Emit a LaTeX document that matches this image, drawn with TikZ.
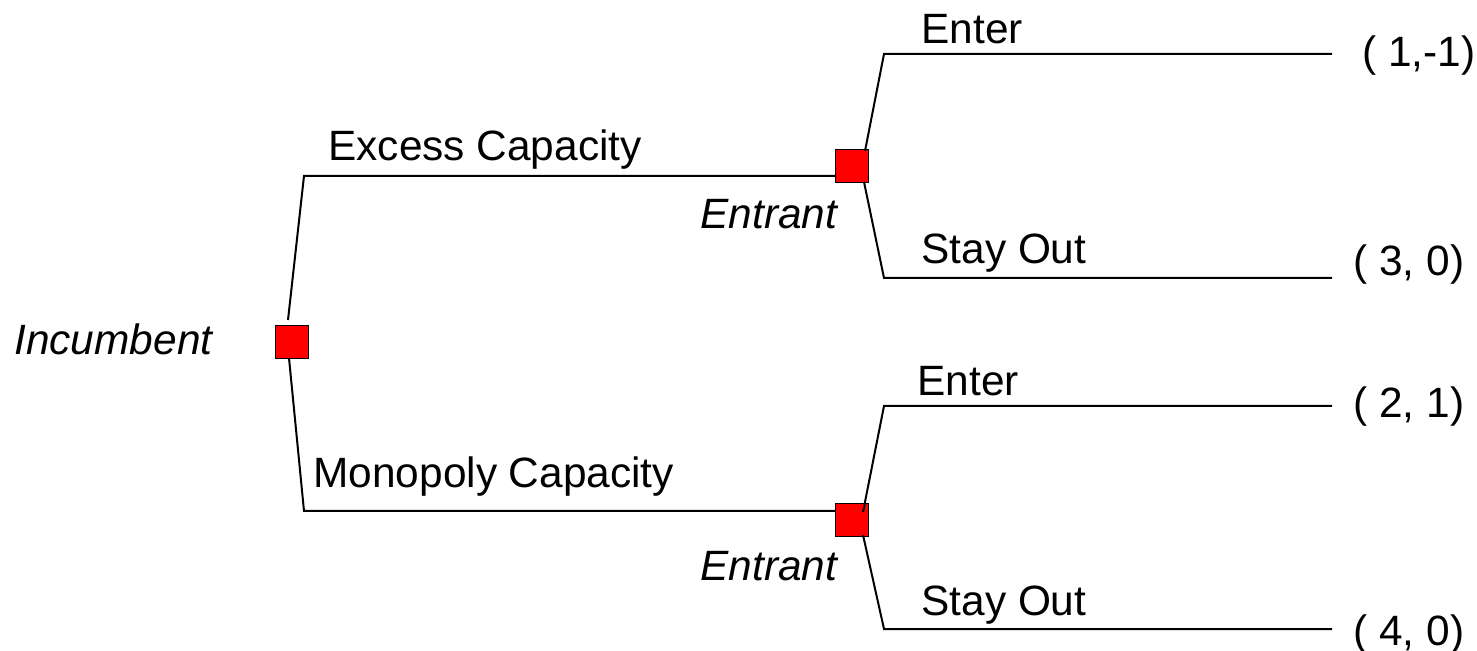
\documentclass[tikz,border=0pt]{standalone}
\usepackage{fontspec}
\setmainfont{Liberation Sans}
\begin{document}
\begin{tikzpicture}[x=0.5pt,y=-0.5pt,
  decision/.style={draw=black,line width=0.75pt,fill=red,minimum size=16.5pt,inner sep=0pt,outer sep=0pt},
  branch/.style={line width=1pt,line join=miter},
  lbl/.style={anchor=base west,inner sep=0pt,font=\fontsize{21.2}{25}\selectfont},
  player/.style={lbl,font=\fontsize{21.2}{25}\selectfont\itshape},
  payoff/.style={lbl}]
\useasboundingbox (0,0) rectangle (1477,651);

% decision nodes
\node[decision] (inc)  at (292,342) {};
\node[decision] (entA) at (852,166) {};
\node[decision] (entB) at (852,520) {};

% corners and ends of the branches
\coordinate (incUp)   at (288,320);
\coordinate (incDn)   at (289,358);
\coordinate (cEx)     at (304,176);
\coordinate (cMo)     at (304,511);
\coordinate (aUp)     at (865,151);
\coordinate (aDn)     at (864,182);
\coordinate (bUp)     at (863,512);
\coordinate (bDn)     at (863,535);
\coordinate (cAE)     at (884,54);
\coordinate (cAS)     at (884,278);
\coordinate (cBE)     at (884,406);
\coordinate (cBS)     at (884,629);
\coordinate (tAE)     at (1332,54);
\coordinate (tAS)     at (1332,278);
\coordinate (tBE)     at (1332,406);
\coordinate (tBS)     at (1332,629);

% incumbent's choice
\draw[branch] (incUp) -- (cEx) -- (cEx -| entA.west);
\draw[branch] (incDn) -- (cMo) -- (cMo -| entB.west);

% entrant's choices
\draw[branch] (aUp) -- (cAE) -- (tAE);
\draw[branch] (aDn) -- (cAS) -- (tAS);
\draw[branch] (bUp) -- (cBE) -- (tBE);
\draw[branch] (bDn) -- (cBS) -- (tBS);

% labels
\node[player] (lInc)  at (14,355)  {Incumbent};
\node[player] (lEntA) at (700,229) {Entrant};
\node[player] (lEntB) at (700,581) {Entrant};
\node[lbl] (lEx)  at (328,161) {Excess Capacity};
\node[lbl] (lMo)  at (313,488) {Monopoly Capacity};
\node[lbl] (lAE)  at (921,44)  {Enter};
\node[lbl] (lAS)  at (921,264) {Stay Out};
\node[lbl] (lBE)  at (917,396) {Enter};
\node[lbl] (lBS)  at (921,615) {Stay Out};

% payoffs
\node[payoff] (pAE) at (1362,67)  {( 1,-1)};
\node[payoff] (pAS) at (1353,276) {( 3, 0)};
\node[payoff] (pBE) at (1353,418) {( 2, 1)};
\node[payoff] (pBS) at (1353,645) {( 4, 0)};
\end{tikzpicture}
\end{document}
